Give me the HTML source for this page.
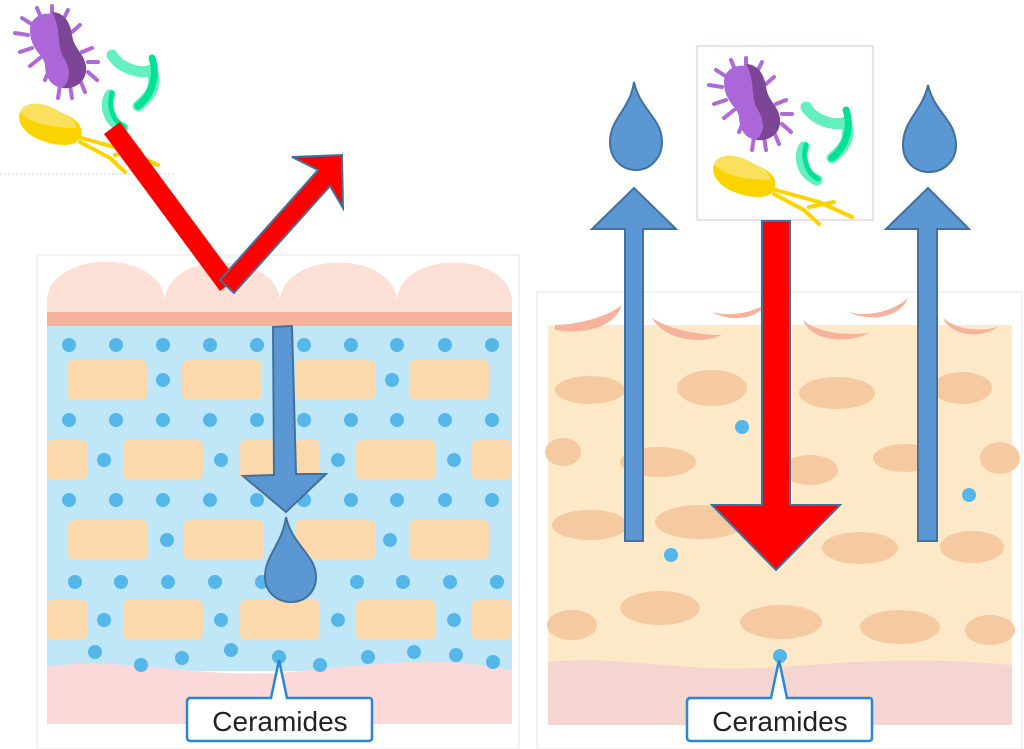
<!DOCTYPE html>
<html><head><style>html,body{margin:0;padding:0;background:#fff;width:1024px;height:749px;overflow:hidden}</style></head>
<body>
<svg width="1024" height="749" viewBox="0 0 1024 749" xmlns="http://www.w3.org/2000/svg" font-family="Liberation Sans, sans-serif">
<defs>
<g id="bac">
  <g stroke="#b06ad8" stroke-width="4" stroke-linecap="round">
    <line x1="15" y1="33" x2="28" y2="35"/><line x1="20" y1="52" x2="32" y2="48"/><line x1="30" y1="66" x2="40" y2="58"/>
    <line x1="45" y1="80" x2="50" y2="68"/><line x1="58" y1="98" x2="60" y2="85"/><line x1="72" y1="98" x2="70" y2="85"/>
    <line x1="85" y1="92" x2="80" y2="80"/><line x1="97" y1="80" x2="88" y2="72"/><line x1="98" y1="62" x2="88" y2="62"/>
    <line x1="92" y1="48" x2="82" y2="52"/><line x1="80" y1="25" x2="72" y2="32"/><line x1="52" y1="6" x2="52" y2="18"/>
    <line x1="37" y1="8" x2="42" y2="20"/><line x1="68" y1="10" x2="63" y2="20"/><line x1="22" y1="18" x2="33" y2="25"/>
  </g>
  <path d="M30 30 C30 12 55 8 65 22 C72 32 70 45 80 55 C92 68 85 88 65 88 C50 88 45 75 45 65 C44 55 30 50 30 30Z" fill="#ab66d8"/>
  <path d="M52 12 C62 12 70 20 72 35 C74 48 82 52 85 62 C90 78 78 90 62 88 C72 80 70 68 64 58 C56 46 62 30 52 12Z" fill="#7c4596"/>
  <path d="M112 55 C120 68 140 75 152 70 C158 88 148 98 138 106" fill="none" stroke="#63f0be" stroke-width="11" stroke-linecap="round"/>
  <path d="M152 58 C158 75 152 95 138 106" fill="none" stroke="#00e096" stroke-width="7" stroke-linecap="round"/>
  <path d="M110 95 C104 105 108 122 123 128" fill="none" stroke="#63f0be" stroke-width="11" stroke-linecap="round"/>
  <path d="M112 93 C108 108 114 122 124 127" fill="none" stroke="#00e096" stroke-width="5" stroke-linecap="round"/>
  <g stroke="#fbd400" stroke-width="4" stroke-linecap="round" fill="none">
    <path d="M78 137 L125 150 L158 165"/><path d="M80 142 L110 158 L125 172"/><path d="M115 155 L140 150"/>
  </g>
  <path d="M20 112 C25 100 45 102 60 112 C75 118 85 125 80 138 C75 148 55 146 40 140 C25 134 16 122 20 112Z" fill="#fbd400"/>
  <path d="M20 112 C25 100 45 102 60 112 C70 116 75 120 76 128 C60 128 30 125 20 112Z" fill="#fbe060"/>
</g>
</defs>

<!-- LEFT PANEL -->
<rect x="37" y="255" width="482" height="494" fill="#fff" stroke="#e2e6ec" stroke-width="1"/>
<rect x="0" y="0" width="174" height="174" fill="#fff" stroke="#9ab" stroke-width="0.6" stroke-dasharray="2,2"/>
<rect x="0" y="0" width="175" height="172" fill="#fff"/>
<g fill="#fce0d6">
  <path d="M47 312 L47 300 C50 250 160 248 165 300 C168 250 275 250 280 300 C285 250 392 250 397 300 C400 250 508 250 512 300 L512 312Z"/>
</g>
<rect x="47" y="312" width="465" height="14" fill="#f7b29c"/>
<rect x="47" y="326" width="465" height="345" fill="#bfe7f7"/>
<path d="M47 667 C120 655 200 680 290 672 C380 664 430 655 512 670 L512 724 L47 724Z" fill="#fbd9d8"/>
<g fill="#fbd9ad">
  <rect x="67" y="360" width="80" height="40" rx="6"/><rect x="182" y="360" width="80" height="40" rx="6"/><rect x="295" y="360" width="80" height="40" rx="6"/><rect x="409" y="360" width="80" height="40" rx="6"/>
  <rect x="47" y="440" width="40" height="40" rx="6"/><rect x="123" y="440" width="80" height="40" rx="6"/><rect x="240" y="440" width="80" height="40" rx="6"/><rect x="356" y="440" width="80" height="40" rx="6"/><rect x="472" y="440" width="40" height="40" rx="6"/>
  <rect x="68" y="520" width="80" height="40" rx="6"/><rect x="184" y="520" width="80" height="40" rx="6"/><rect x="295" y="520" width="80" height="40" rx="6"/><rect x="409" y="520" width="80" height="40" rx="6"/>
  <rect x="47" y="600" width="40" height="40" rx="6"/><rect x="123" y="600" width="80" height="40" rx="6"/><rect x="240" y="600" width="80" height="40" rx="6"/><rect x="356" y="600" width="80" height="40" rx="6"/><rect x="472" y="600" width="40" height="40" rx="6"/>
</g>
<g fill="#55b6ea">
  <circle cx="69" cy="345" r="7"/><circle cx="116" cy="345" r="7"/><circle cx="163" cy="345" r="7"/><circle cx="210" cy="345" r="7"/><circle cx="257" cy="345" r="7"/><circle cx="304" cy="345" r="7"/><circle cx="351" cy="345" r="7"/><circle cx="397" cy="345" r="7"/><circle cx="445" cy="345" r="7"/><circle cx="492" cy="345" r="7"/>
  <circle cx="163" cy="380" r="7"/><circle cx="392" cy="380" r="7"/>
  <circle cx="69" cy="420" r="7"/><circle cx="116" cy="420" r="7"/><circle cx="163" cy="420" r="7"/><circle cx="210" cy="420" r="7"/><circle cx="257" cy="420" r="7"/><circle cx="304" cy="420" r="7"/><circle cx="351" cy="420" r="7"/><circle cx="397" cy="420" r="7"/><circle cx="445" cy="420" r="7"/><circle cx="492" cy="420" r="7"/>
  <circle cx="104" cy="460" r="7"/><circle cx="221" cy="460" r="7"/><circle cx="338" cy="460" r="7"/><circle cx="454" cy="460" r="7"/>
  <circle cx="69" cy="500" r="7"/><circle cx="116" cy="500" r="7"/><circle cx="163" cy="500" r="7"/><circle cx="210" cy="500" r="7"/><circle cx="257" cy="500" r="7"/><circle cx="304" cy="500" r="7"/><circle cx="351" cy="500" r="7"/><circle cx="397" cy="500" r="7"/><circle cx="445" cy="500" r="7"/><circle cx="492" cy="500" r="7"/>
  <circle cx="167" cy="540" r="7"/><circle cx="390" cy="540" r="7"/>
  <circle cx="75" cy="582" r="7"/><circle cx="121" cy="582" r="7"/><circle cx="168" cy="582" r="7"/><circle cx="215" cy="582" r="7"/><circle cx="262" cy="582" r="7"/><circle cx="357" cy="582" r="7"/><circle cx="403" cy="582" r="7"/><circle cx="450" cy="582" r="7"/><circle cx="497" cy="582" r="7"/>
  <circle cx="104" cy="620" r="7"/><circle cx="221" cy="620" r="7"/><circle cx="338" cy="620" r="7"/><circle cx="454" cy="620" r="7"/>
  <circle cx="95" cy="652" r="7"/><circle cx="141" cy="665" r="7"/><circle cx="182" cy="658" r="7"/><circle cx="231" cy="650" r="7"/><circle cx="279" cy="657" r="7"/><circle cx="320" cy="665" r="7"/><circle cx="368" cy="657" r="7"/><circle cx="414" cy="652" r="7"/><circle cx="456" cy="655" r="7"/><circle cx="493" cy="662" r="7"/>
</g>
<path d="M188 698 L271 698 L279 660 L287 698 L370 698 Q372 698 372 702 L372 738 Q372 741 368 741 L191 741 Q187 741 187 737 L187 702 Q187 698 191 698Z" fill="#fff" stroke="#2a86d8" stroke-width="2.5"/>
<text x="280" y="731" font-size="28" text-anchor="middle" fill="#222">Ceramides</text>

<use href="#bac"/>
<!-- red bounce arrow -->
<polyline points="112,128 228,285" fill="none" stroke="#ff0000" stroke-width="20"/>
<path d="M220 280 L318 170 L292 157 L342 155 L343 208 L330 186 L234 293Z" fill="#ff0000" stroke="#41719c" stroke-width="2"/>
<!-- blue down arrow -->
<path d="M273 327 L292 326 L296 474 L326 474 L286 512 L243 476 L274 475Z" fill="#5a97d3" stroke="#41719c" stroke-width="2"/>
<path d="M286 517 C292 545 316 555 316 577 C316 592 305 602 291 602 C277 602 265 592 265 577 C265 555 282 545 286 517Z" fill="#5a97d3" stroke="#41719c" stroke-width="2"/>

<!-- RIGHT PANEL -->
<rect x="537" y="292" width="485" height="457" fill="#fff" stroke="#e2e6ec" stroke-width="1"/>
<rect x="548" y="325" width="464" height="345" fill="#fde8c8"/>
<path d="M548 662 C620 655 680 672 760 668 C840 664 900 655 1012 665 L1012 725 L548 725Z" fill="#f4d5cf"/>
<g fill="#f7b29c">
  <path d="M555 325 C580 325 610 315 622 305 C615 325 590 335 555 330Z"/>
  <path d="M652 318 C670 330 700 335 722 335 C700 345 665 340 652 318Z"/>
  <path d="M712 312 C735 318 755 310 765 305 C755 320 730 322 712 312Z"/>
  <path d="M803 320 C820 335 850 335 870 333 C845 345 810 340 803 320Z"/>
  <path d="M848 312 C870 318 895 310 908 298 C900 318 870 322 848 312Z"/>
  <path d="M943 318 C955 328 975 333 998 327 C980 340 950 335 943 318Z"/>
</g>
<g fill="#f5caa0">
  <ellipse cx="590" cy="390" rx="35" ry="14"/><ellipse cx="712" cy="388" rx="35" ry="18"/><ellipse cx="837" cy="393" rx="38" ry="16"/><ellipse cx="962" cy="388" rx="30" ry="16"/>
  <ellipse cx="563" cy="452" rx="18" ry="14"/><ellipse cx="658" cy="462" rx="38" ry="15"/><ellipse cx="810" cy="470" rx="28" ry="15"/><ellipse cx="905" cy="458" rx="32" ry="14"/><ellipse cx="1000" cy="458" rx="20" ry="16"/>
  <ellipse cx="590" cy="525" rx="38" ry="15"/><ellipse cx="700" cy="522" rx="45" ry="17"/><ellipse cx="860" cy="548" rx="38" ry="16"/><ellipse cx="972" cy="547" rx="32" ry="16"/>
  <ellipse cx="660" cy="608" rx="40" ry="17"/><ellipse cx="572" cy="625" rx="25" ry="15"/><ellipse cx="781" cy="622" rx="41" ry="17"/><ellipse cx="900" cy="627" rx="40" ry="17"/><ellipse cx="990" cy="630" rx="25" ry="15"/>
</g>
<g fill="#55b6ea">
  <circle cx="742" cy="427" r="7"/><circle cx="969" cy="495" r="7"/><circle cx="671" cy="555" r="7"/><circle cx="780" cy="656" r="7"/>
</g>
<path d="M688 698 L771 698 L779 660 L787 698 L870 698 Q872 698 872 702 L872 738 Q872 741 868 741 L691 741 Q687 741 687 737 L687 702 Q687 698 691 698Z" fill="#fff" stroke="#2a86d8" stroke-width="2.5"/>
<text x="780" y="731" font-size="28" text-anchor="middle" fill="#222">Ceramides</text>

<rect x="697" y="46" width="176" height="174" fill="#fff" stroke="#b9c" stroke-width="0.6"/>
<use href="#bac" transform="translate(694,52)"/>

<!-- up arrows -->
<path d="M625 541 L625 229 L592 229 L634 188 L676 229 L643 229 L643 541Z" fill="#5a97d3" stroke="#41719c" stroke-width="2"/>
<path d="M918 541 L918 229 L886 229 L928 188 L969 229 L937 229 L937 541Z" fill="#5a97d3" stroke="#41719c" stroke-width="2"/>
<path d="M634 82 C640 110 662 118 662 142 C662 158 650 170 636 170 C621 170 610 158 610 142 C610 118 630 110 634 82Z" fill="#5a97d3" stroke="#41719c" stroke-width="2"/>
<path d="M928 85 C934 112 956 120 956 145 C956 161 944 172 929 172 C914 172 903 161 903 145 C903 120 922 112 928 85Z" fill="#5a97d3" stroke="#41719c" stroke-width="2"/>
<!-- red down arrow -->
<path d="M762 221 L790 221 L790 505 L840 505 L776 570 L712 505 L762 505Z" fill="#ff0000" stroke="#41719c" stroke-width="2"/>
</svg>
</body></html>
